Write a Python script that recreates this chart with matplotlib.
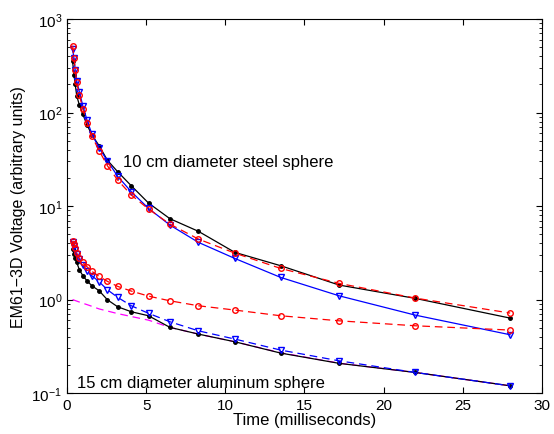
import matplotlib
matplotlib.use("Agg")
import matplotlib.pyplot as plt
import numpy as np

plt.rcParams["font.family"] = ["Liberation Sans", "DejaVu Sans"]
plt.rcParams["lines.scale_dashes"] = False

# time gates (ms)
t = [0.35, 0.44, 0.52, 0.61, 0.78, 1.0, 1.26, 1.57, 2.03, 2.55,
     3.2, 4.06, 5.15, 6.5, 8.3, 10.6, 13.5, 17.2, 22.0, 28.0]

# log10 of voltages
steel_black = [2.55, 2.40, 2.30, 2.18, 2.08, 1.98, 1.87, 1.76, 1.645, 1.49,
               1.367, 1.217, 1.032, 0.865, 0.73, 0.505, 0.362, 0.155, 0.013, -0.198]
steel_blue = [2.68, 2.58, 2.45, 2.34, 2.22, 2.07, 1.92, 1.77, 1.62, 1.484,
              1.318, 1.153, 0.975, 0.797, 0.612, 0.44, 0.237, 0.04, -0.166, -0.376]
steel_red = [2.715, 2.586, 2.458, 2.323, 2.187, 2.037, 1.888, 1.746, 1.592, 1.431,
             1.278, 1.118, 0.968, 0.807, 0.647, 0.497, 0.333, 0.173, 0.016, -0.144]

alu_black = [0.54, 0.487, 0.44, 0.398, 0.319, 0.255, 0.201, 0.148, 0.094, -0.002,
             -0.077, -0.13, -0.173, -0.297, -0.369, -0.451, -0.572, -0.682, -0.779, -0.922]
alu_blue = [0.618, 0.575, 0.53, 0.49, 0.43, 0.37, 0.308, 0.255, 0.19, 0.105,
            0.024, -0.066, -0.147, -0.237, -0.334, -0.422, -0.54, -0.655, -0.779, -0.922]
alu_red = [0.629, 0.594, 0.548, 0.497, 0.44, 0.398, 0.351, 0.302, 0.248, 0.195,
           0.141, 0.091, 0.037, -0.013, -0.066, -0.112, -0.173, -0.227, -0.28, -0.326]

fit_t = [0.35, 0.84, 1.37, 2.03, 3.2, 5.15, 6.5, 8.3, 10.6, 13.5, 17.2, 22.0, 28.0]
fit_v = [0.0, -0.03, -0.06, -0.10, -0.15, -0.22, -0.297, -0.369, -0.451,
         -0.568, -0.68, -0.779, -0.922]


def v(lst):
    return 10 ** np.array(lst)


DASH = (5.5, 3.5)

fig = plt.figure(figsize=(5.54, 4.35), dpi=100)
ax = fig.add_axes([0.121, 0.094, 0.857, 0.860])

ms = 4
ax.plot(t, v(steel_black), "k-", marker=".", ms=5, lw=0.9)
ax.plot(t, v(steel_blue), "b-", marker="v", ms=ms, mfc="none", lw=0.9)
ax.plot(t, v(steel_red), "r--", marker="o", ms=ms, mfc="none", lw=0.9, dashes=DASH)

ax.plot(fit_t, v(fit_v), "--", color="#ff00ff", lw=0.9, dashes=DASH)
ax.plot(t, v(alu_black), "k-", marker=".", ms=5, lw=0.9)
ax.plot(t, v(alu_blue), "b--", marker="v", ms=ms, mfc="none", lw=0.9, dashes=DASH)
ax.plot(t, v(alu_red), "r--", marker="o", ms=ms, mfc="none", lw=0.9, dashes=DASH)

ax.set_yscale("log")
ax.set_xlim(0, 30)
ax.set_ylim(0.1, 1000)
ax.tick_params(which="both", direction="in", top=True, right=True, labelsize=11)
ax.tick_params(which="major", length=4)
ax.tick_params(which="minor", length=2)
ax.set_xlabel("Time (milliseconds)", fontsize=12, labelpad=0)
ax.set_ylabel("EM61\u22123D Voltage (arbitrary units)", fontsize=11.5, labelpad=4)

ax.text(3.55, 30, "10 cm diameter steel sphere", fontsize=12, va="center")
ax.text(0.6, 0.131, "15 cm diameter aluminum sphere", fontsize=12, va="center")

fig.savefig("out.png", dpi=100)
